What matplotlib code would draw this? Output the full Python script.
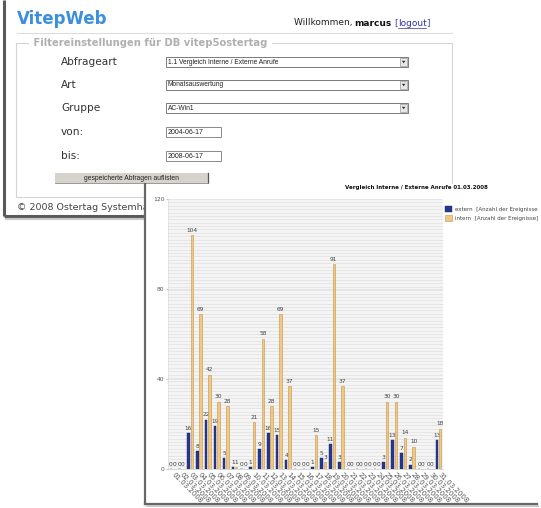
import numpy as np
import matplotlib
matplotlib.use('Agg')
import matplotlib.pyplot as plt
from matplotlib.patches import Rectangle, Polygon
from matplotlib.ticker import MultipleLocator

# chart data (Monatsauswertung, Maerz 2008)
days = [f'{d:02d}.03.2008' for d in range(1, 32)]
extern = [0, 0, 16, 8, 22, 19, 5, 1, 0, 1, 9, 16, 15, 4, 0, 0, 1, 5, 11, 3,
          0, 0, 0, 0, 3, 13, 7, 2, 0, 0, 13]
intern = [0, 0, 104, 69, 42, 30, 28, 1, 0, 21, 58, 28, 69, 37, 0, 0, 15, 3, 91, 37,
          0, 0, 0, 0, 30, 30, 14, 10, 0, 0, 18]
series_names = ['extern  [Anzahl der Ereignisse', 'intern  [Anzahl der Ereignisse]']
y_ticks = [0, 40, 80, 120]

# form texts
form_labels = ['Abfrageart', 'Art', 'Gruppe', 'von:', 'bis:']
select_values = ['1.1 Vergleich Interne / Externe Anrufe', 'Monatsauswertung', 'AC-Win1']
date_values = ['2004-06-17', '2008-06-17']

W, H = 541, 508
fig = plt.figure(figsize=(W / 100, H / 100), dpi=100)
fig.patch.set_facecolor('white')

# background axes in pixel coords for the web page
bg = fig.add_axes([0, 0, 1, 1])
bg.set_xlim(0, W)
bg.set_ylim(H, 0)
bg.axis('off')

SANS = 'DejaVu Sans'
ARIAL = 'Liberation Sans'

# page frame
bg.plot([4, 4], [0, 216], color='#5a5a5a', lw=2.2, solid_capstyle='butt', zorder=2)
bg.plot([4, 150], [216, 216], color='#5a5a5a', lw=2.2, solid_capstyle='butt', zorder=2)
bg.plot([6, 150], [219, 219], color='#c8c8c8', lw=1.5, zorder=2)

bg.text(17, 19, 'VitepWeb', fontsize=12, fontweight='bold', color='#3b8fdc',
        family=SANS, va='center', ha='left')
bg.plot([17, 452], [32.5, 32.5], color='#dcdcdc', lw=0.8)

bg.text(294, 23, 'Willkommen, ', fontsize=6.5, color='#222', family=SANS, va='center')
bg.text(354, 23, 'marcus', fontsize=6.5, fontweight='bold', color='#111', family=SANS, va='center')
bg.text(394, 23, '[', fontsize=6.5, color='#4444aa', family=SANS, va='center')
bg.text(398, 23, 'logout', fontsize=6.5, color='#3333aa', family=SANS, va='center')
bg.plot([398, 426], [27.5, 27.5], color='#3333aa', lw=0.5)
bg.text(426.5, 23, ']', fontsize=6.5, color='#4444aa', family=SANS, va='center')

# fieldset
bg.add_patch(Rectangle((16, 43), 436, 154, fill=False, ec='#d4d4d4', lw=0.8))
bg.text(30, 43, ' Filtereinstellungen für DB vitep5ostertag ', fontsize=7.2,
        fontweight='bold', color='#b0b0b0', family=SANS, va='center',
        bbox=dict(fc='white', ec='none', pad=0.5))

label_y = [62, 85, 108, 132, 156]
for lab, y in zip(form_labels, label_y):
    bg.text(61, y, lab, fontsize=7.6, color='#333', family=SANS, va='center')

for val, y in zip(select_values, label_y[:3]):
    bg.add_patch(Rectangle((166, y - 5), 242, 9.5, fc='white', ec='#7a7a7a', lw=0.7))
    bg.add_patch(Rectangle((400, y - 4.2), 7.3, 8, fc='#e8e8e8', ec='#9a9a9a', lw=0.5))
    bg.add_patch(Polygon([[401.8, y - 1.2], [405.5, y - 1.2], [403.65, y + 1.2]],
                         closed=True, fc='#333', ec='none'))
    bg.text(168, y, val, fontsize=4.8, color='#222', family=ARIAL, va='center')

for val, y in zip(date_values, label_y[3:]):
    bg.add_patch(Rectangle((166, y - 5.5), 55, 10.5, fc='white', ec='#8a8a8a', lw=0.7))
    bg.text(167.5, y, val, fontsize=5, color='#222', family=ARIAL, va='center')

bg.add_patch(Rectangle((55, 173), 153, 10, fc='#d6d3cc', ec='none'))
bg.plot([208, 208], [173, 183], color='#555', lw=0.9)
bg.plot([55, 208], [183, 183], color='#888', lw=0.6)
bg.text(131, 178, 'gespeicherte Abfragen auflisten', fontsize=4.9, color='#222',
        family=ARIAL, ha='center', va='center')

bg.text(17, 208, '© 2008 Ostertag Systemhaus', fontsize=6.8, color='#444',
        family=SANS, va='center', zorder=1)

# chart panel on top of the page
bg.add_patch(Rectangle((145, 184), 400, 320, fc='white', ec='none', zorder=5))
bg.plot([145, 145], [184, 504], color='#666', lw=1.6, zorder=6)
bg.plot([145, 537], [503.5, 503.5], color='#666', lw=1.6, zorder=6)
bg.plot([147, 538], [506, 506], color='#c4c4c4', lw=1.3, zorder=6)
bg.text(416, 187, 'Vergleich Interne / Externe Anrufe 01.03.2008', fontsize=4.0,
        fontweight='bold', color='#111', family=SANS, ha='center', va='center', zorder=7)

# bar chart
ax = fig.add_axes([168 / W, 1 - 469 / H, 275 / W, 270 / H])
ax.set_facecolor('#f4f4f4')
x = np.arange(len(days))
bw = 0.28
off = 0.19
b1 = ax.bar(x - off, extern, bw, color='#26388e', ec='#1b2768', lw=0.3,
            label=series_names[0], zorder=2)
b2 = ax.bar(x + off, intern, bw, color='#efc884', ec='#c99349', lw=0.4,
            label=series_names[1], zorder=4)
ax.bar_label(b1, padding=1.5, fontsize=4.2, color='#444', zorder=3)
ax.bar_label(b2, padding=1.5, fontsize=4.2, color='#444', zorder=5)

ax.set_xlim(-0.5, len(days) - 0.5)
ax.set_ylim(0, 120)
ax.set_yticks(y_ticks)
ax.yaxis.set_minor_locator(MultipleLocator(1.5))
ax.grid(which='both', axis='y', color='#e0e0e0', lw=0.5, zorder=0)
ax.set_axisbelow(True)
ax.tick_params(axis='y', which='major', labelsize=4.3, labelcolor='#555',
               length=1.5, width=0.4, color='#999', pad=1)
ax.tick_params(axis='y', which='minor', length=0)
ax.set_xticks(x)
ax.set_xticklabels(days, rotation=-45, ha='left', va='center',
                   rotation_mode='anchor', fontsize=5, color='#555')
ax.tick_params(axis='x', length=0, pad=3)
for s in ['top', 'right']:
    ax.spines[s].set_visible(False)
ax.spines['left'].set_color('#dcdcdc')
ax.spines['left'].set_linewidth(0.5)
ax.spines['bottom'].set_color('#c8c8c8')
ax.spines['bottom'].set_linewidth(0.5)

ax.legend(loc='upper left', bbox_to_anchor=(1.008, 0.975), frameon=False,
          fontsize=4, borderpad=0, borderaxespad=0, handlelength=1.3,
          handleheight=1.3, handletextpad=0.5, labelspacing=0.55,
          labelcolor='#444')

fig.savefig('out.png', dpi=100)
